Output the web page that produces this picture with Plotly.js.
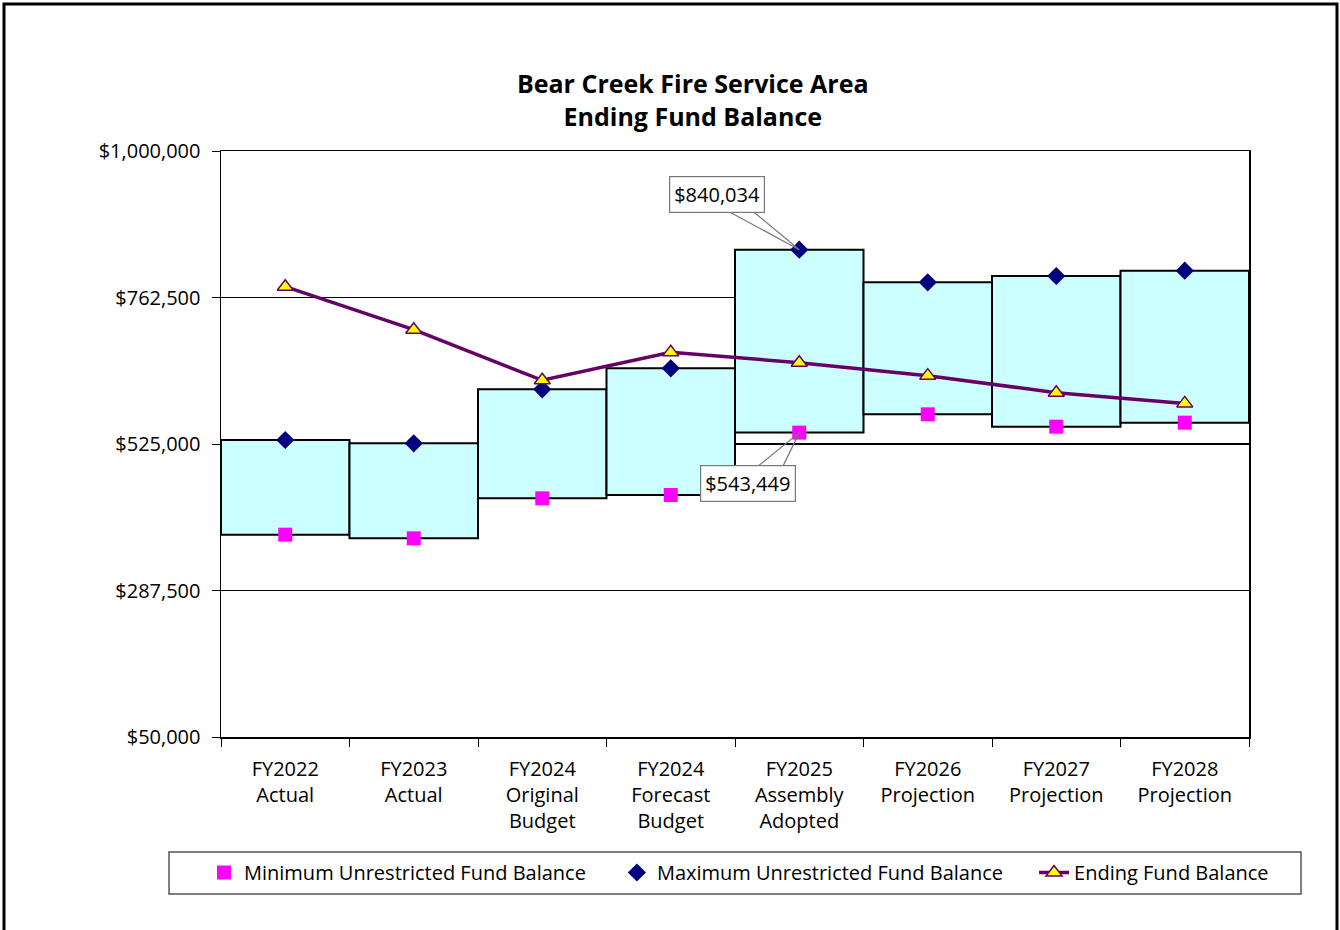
<!DOCTYPE html>
<html>
<head>
<meta charset="utf-8">
<script src="https://cdn.plot.ly/plotly-3.0.1.min.js"></script>
<style>
html,body{margin:0;padding:0;background:#fff;}
#chart{width:1340px;height:930px;}
</style>
</head>
<body>
<div id="chart"></div>
<script>
const categories = [
  "FY2022<br>Actual",
  "FY2023<br>Actual",
  "FY2024<br>Original<br>Budget",
  "FY2024<br>Forecast<br>Budget",
  "FY2025<br>Assembly<br>Adopted",
  "FY2026<br>Projection",
  "FY2027<br>Projection",
  "FY2028<br>Projection"
];
const minBalance = [378000, 372100, 436900, 442300, 543449, 573100, 553100, 559600];
const maxBalance = [531500, 526100, 613700, 647700, 840034, 787100, 797350, 806000];
const endingBalance = [780000, 710300, 628300, 673600, 656800, 635800, 608200, 590800];
const yTickVals = [50000, 287500, 525000, 762500, 1000000];
const yTickText = ["$50,000", "$287,500", "$525,000", "$762,500", "$1,000,000"];
const seriesNames = ["Minimum Unrestricted Fund Balance", "Maximum Unrestricted Fund Balance", "Ending Fund Balance"];

const FONT = "'Open Sans', 'Noto Sans', sans-serif";
const PAD = "\u00a0\u00a0\u00a0\u00a0\u00a0";

// plot area in pixels (for paper-coordinate helpers)
const PL = 221, PR = 1249, PT = 151, PB = 737;
const px2x = p => (p - PL) / (PR - PL);
const px2y = p => (PB - p) / (PB - PT);

const rangeHeights = maxBalance.map((v, i) => v - minBalance[i]);

const traces = [
  {
    type: "bar",
    x: categories,
    y: rangeHeights,
    base: minBalance,
    width: 1,
    marker: {color: "#CCFFFF", line: {color: "#000000", width: 2}},
    showlegend: false,
    hoverinfo: "skip"
  },
  {
    type: "scatter",
    mode: "markers",
    name: seriesNames[0] + PAD,
    x: categories,
    y: minBalance,
    marker: {symbol: "square", color: "#FF00FF", size: 14}
  },
  {
    type: "scatter",
    mode: "markers",
    name: seriesNames[1] + PAD,
    x: categories,
    y: maxBalance,
    marker: {symbol: "diamond", color: "#000080", size: 14}
  },
  {
    type: "scatter",
    mode: "lines+markers",
    name: seriesNames[2],
    x: categories,
    y: endingBalance,
    line: {color: "#660066", width: 3.5},
    marker: {symbol: "triangle-up", color: "#FFFF00", size: 14, line: {color: "#660066", width: 1.5}}
  }
];

// callout helpers: a label box plus a two-line wedge pointing at a data point
function wedgeLine(xv, yv, ax, ay) {
  return {
    x: xv, y: yv, xref: "x", yref: "y",
    text: " ", font: {size: 1},
    showarrow: true, arrowhead: 0, arrowcolor: "#777", arrowwidth: 1.2,
    standoff: 0, startstandoff: 0,
    ax: ax, ay: ay
  };
}
function calloutLabel(xv, yv, txt, ax, ay) {
  return {
    x: xv, y: yv, xref: "x", yref: "y",
    text: txt,
    showarrow: true, arrowcolor: "rgba(0,0,0,0)", arrowwidth: 0.1, arrowhead: 0,
    ax: ax, ay: ay,
    bgcolor: "#fff", bordercolor: "#777", borderwidth: 1.2, borderpad: 4,
    font: {family: FONT, size: 20, color: "#000"}
  };
}

const layout = {
  width: 1340,
  height: 930,
  margin: {l: PL, r: 1340 - PR, t: PT, b: 930 - PB},
  paper_bgcolor: "#ffffff",
  plot_bgcolor: "#ffffff",
  font: {family: FONT, size: 20, color: "#000"},
  title: {
    text: "<b>Bear Creek Fire Service Area<br>Ending Fund Balance</b>",
    x: 0.517, xanchor: "center",
    y: 0.9, yanchor: "middle",
    font: {family: FONT, size: 25, color: "#000"}
  },
  barmode: "overlay",
  bargap: 0,
  xaxis: {
    type: "category",
    showline: true, linecolor: "#000", linewidth: 1.5,
    mirror: true,
    ticks: "outside", tickson: "boundaries", ticklen: 8, tickcolor: "#000",
    ticklabelstandoff: 13,
    tickfont: {family: FONT, size: 20, color: "#000"},
    showgrid: false,
    fixedrange: true
  },
  yaxis: {
    range: [50000, 1000000],
    tickvals: yTickVals,
    ticktext: yTickText,
    showline: true, linecolor: "#000", linewidth: 1.5,
    mirror: true,
    ticks: "outside", ticklen: 8, tickcolor: "#000",
    ticklabelstandoff: 7,
    showgrid: true, gridcolor: "#000", gridwidth: 1.5,
    zeroline: false,
    tickfont: {family: FONT, size: 20, color: "#000"},
    fixedrange: true
  },
  legend: {
    orientation: "h",
    x: px2x(204), xanchor: "left",
    y: px2y(853), yanchor: "top",
    borderwidth: 0,
    bgcolor: "rgba(0,0,0,0)",
    font: {family: FONT, size: 20, color: "#000"}
  },
  annotations: [
    wedgeLine(categories[4], maxBalance[4], -72, -39),
    wedgeLine(categories[4], maxBalance[4], -47, -39),
    calloutLabel(categories[4], maxBalance[4], "$840,034", -82, -55),
    wedgeLine(categories[4], minBalance[4], -43, 35),
    wedgeLine(categories[4], minBalance[4], -17, 35),
    calloutLabel(categories[4], minBalance[4], "$543,449", -51, 51)
  ],
  shapes: [
    {
      type: "rect", xref: "paper", yref: "paper",
      x0: px2x(4), x1: px2x(1337),
      y0: px2y(940), y1: px2y(4),
      line: {color: "#000", width: 3},
      fillcolor: "rgba(0,0,0,0)",
      layer: "below"
    },
    {
      type: "rect", xref: "paper", yref: "paper",
      x0: px2x(169), x1: px2x(1301),
      y0: px2y(894), y1: px2y(852),
      line: {color: "#555", width: 1.5},
      fillcolor: "rgba(0,0,0,0)",
      layer: "below"
    }
  ]
};

Plotly.newPlot("chart", traces, layout, {displayModeBar: false, staticPlot: true});
</script>
</body>
</html>
